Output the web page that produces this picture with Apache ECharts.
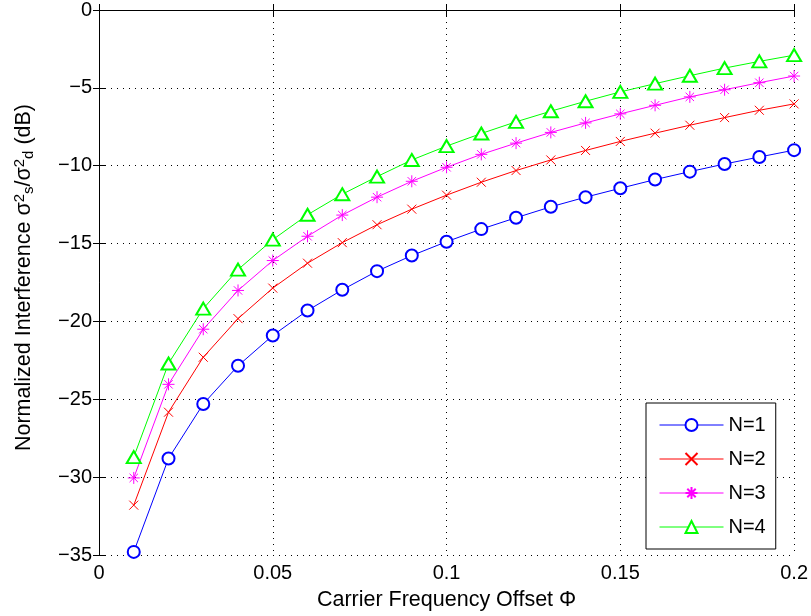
<!DOCTYPE html>
<html>
<head>
<meta charset="utf-8">
<script src="https://cdn.jsdelivr.net/npm/echarts@6/dist/echarts.min.js"></script>
<style>
  html, body { margin: 0; padding: 0; background: #fff; }
  #chart { width: 811px; height: 616px; }
</style>
</head>
<body>
<div id="chart"></div>
<script>
// carrier frequency offset values
var offsets = [0.01, 0.02, 0.03, 0.04, 0.05, 0.06, 0.07, 0.08, 0.09, 0.1,
               0.11, 0.12, 0.13, 0.14, 0.15, 0.16, 0.17, 0.18, 0.19, 0.2];

// normalized interference (dB)
var n1 = [-34.8, -28.8, -25.3, -22.85, -20.9, -19.3, -17.97, -16.77, -15.77, -14.88,
          -14.07, -13.34, -12.64, -12.02, -11.45, -10.89, -10.38, -9.89, -9.44, -9.0];
var n2 = [-31.8, -25.83, -22.3, -19.82, -17.86, -16.26, -14.94, -13.79, -12.79, -11.89,
          -11.06, -10.31, -9.63, -9.02, -8.44, -7.91, -7.40, -6.91, -6.44, -6.03];
var n3 = [-30.05, -24.04, -20.5, -18.01, -16.09, -14.53, -13.17, -12.02, -11.0, -10.1,
          -9.27, -8.55, -7.86, -7.25, -6.67, -6.12, -5.58, -5.12, -4.67, -4.24];
var n4 = [-28.71, -22.7, -19.18, -16.67, -14.75, -13.15, -11.83, -10.7, -9.63, -8.74,
          -7.93, -7.18, -6.5, -5.86, -5.26, -4.73, -4.22, -3.73, -3.3, -2.9];

var names = ['N=1', 'N=2', 'N=3', 'N=4'];
var colors = ['#0000ff', '#ff0000', '#ff00ff', '#00ff00'];
var symbols = [
  'emptyCircle',
  'path://M0,0L10,10M10,0L0,10',
  'path://M5,0L5,10M0,5L10,5M1.5,1.5L8.5,8.5M8.5,1.5L1.5,8.5',
  'emptyTriangle'
];
var sizes = [12, 9, 12, [14, 12]];

var font = 'Liberation Sans, Arial, Helvetica, sans-serif';

function pairs(ys) {
  return offsets.map(function (x, i) { return [x, ys[i]]; });
}

var series = [n1, n2, n3, n4].map(function (ys, i) {
  var s = {
    name: names[i],
    type: 'line',
    data: pairs(ys),
    symbol: symbols[i],
    symbolSize: sizes[i],
    showAllSymbol: true,
    lineStyle: { color: colors[i], width: 1 },
    itemStyle: { color: colors[i], borderColor: colors[i], borderWidth: 1 },
    emphasis: { disabled: true }
  };
  if (i === 3 || i === 0) {
    s.itemStyle = { color: colors[i], borderWidth: 1.2 };
  }
  return s;
});

var dotted = { show: true, lineStyle: { color: '#000', type: [1, 5], width: 1 } };

var option = {
  animation: false,
  backgroundColor: '#fff',
  grid: { left: 99, right: 16, top: 10, bottom: 58, containLabel: false },
  legend: {
    orient: 'vertical',
    left: 646,
    top: 403,
    data: names,
    itemWidth: 64,
    itemHeight: 15,
    itemGap: 14,
    padding: [12, 10, 12, 13],
    backgroundColor: '#fff',
    borderColor: '#000',
    borderWidth: 1,
    borderRadius: 0,
    lineStyle: { width: 1 },
    textStyle: { fontFamily: font, fontSize: 20, lineHeight: 15, color: '#000' }
  },
  xAxis: [{
    type: 'value',
    min: 0, max: 0.2, interval: 0.05,
    name: 'Carrier Frequency Offset Φ',
    nameLocation: 'middle',
    nameGap: 34,
    nameTextStyle: { fontFamily: font, fontSize: 21.5, color: '#000' },
    axisLine: { lineStyle: { color: '#000', width: 1 } },
    axisTick: { inside: true, length: 6, lineStyle: { color: '#000' } },
    axisLabel: { fontFamily: font, fontSize: 20, color: '#000', margin: 8 },
    splitLine: dotted
  }, {
    type: 'value', position: 'top',
    min: 0, max: 0.2, interval: 0.05,
    axisLine: { show: true, lineStyle: { color: '#000', width: 1 } },
    axisTick: { show: true, inside: true, length: 6, lineStyle: { color: '#000' } },
    axisLabel: { show: false },
    splitLine: { show: false }
  }],
  yAxis: [{
    type: 'value',
    min: -35, max: 0, interval: 5,
    name: '{t|Normalized Interference σ}{sup|2}{sub|s}{t|/σ}{sup|2}{sub|d}{t| (dB)}',
    nameLocation: 'middle',
    nameGap: 62,
    nameRotate: 90,
    nameTextStyle: {
      fontFamily: font, fontSize: 21.5, color: '#000',
      padding: [0, 0, 0, 10],
      rich: {
        t: { fontFamily: font, fontSize: 21.5, color: '#000' },
        sup: { fontFamily: font, fontSize: 15, color: '#000', padding: [0, 0, 10, 0] },
        sub: { fontFamily: font, fontSize: 15, color: '#000', padding: [9, 0, 0, 0] }
      }
    },
    axisLine: { lineStyle: { color: '#000', width: 1 } },
    axisTick: { inside: true, length: 6, lineStyle: { color: '#000' } },
    axisLabel: {
      fontFamily: font, fontSize: 20, color: '#000', margin: 7,
      formatter: function (v) { return v < 0 ? '\u2212' + Math.abs(v) : String(v); }
    },
    splitLine: dotted
  }, {
    type: 'value', position: 'right',
    min: -35, max: 0, interval: 5,
    axisLine: { show: true, lineStyle: { color: '#000', width: 1 } },
    axisTick: { show: true, inside: true, length: 6, lineStyle: { color: '#000' } },
    axisLabel: { show: false },
    splitLine: { show: false }
  }],
  series: series
};

var chart = echarts.init(document.getElementById('chart'));
chart.setOption(option);
</script>
</body>
</html>
